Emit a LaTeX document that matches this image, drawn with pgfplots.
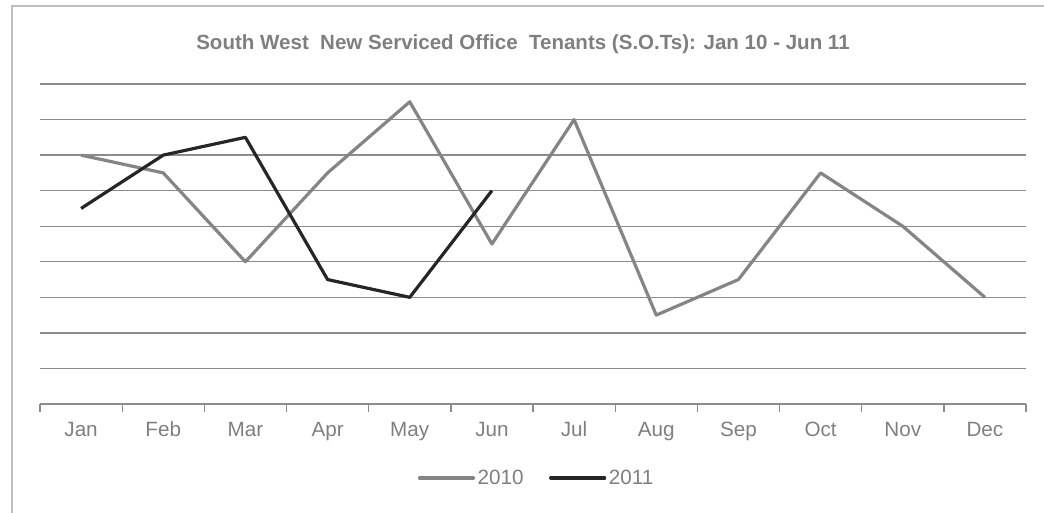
\documentclass[border=0pt]{standalone}
\usepackage{pgfplots}
\pgfplotsset{compat=1.18}
\usepackage{fontspec}
\setmainfont{Liberation Sans}
\definecolor{txtgray}{HTML}{7F7F7F}
\definecolor{gridgray}{HTML}{8C8C8C}
\definecolor{s2010}{HTML}{858585}
\definecolor{s2011}{HTML}{262626}
\definecolor{bordergray}{HTML}{BFBFBF}
\begin{document}
\begin{tikzpicture}
\path[use as bounding box] (0,0) rectangle (783pt,384pt);
\draw[bordergray, line width=1pt] (9pt,-2pt) -- (9pt,379.5pt) -- (790pt,379.5pt);
\node[anchor=base, font=\bfseries\fontsize{15.4pt}{18pt}\selectfont, text=txtgray, inner sep=0pt] at (392.25pt,347.25pt) {South West\ \ New Serviced Office\ \ Tenants (S.O.Ts): Jan 10 - Jun 11};
\begin{axis}[
  at={(30pt,81pt)}, anchor=south west,
  scale only axis, width=739.5pt, height=240pt,
  xmin=0.5, xmax=12.5, ymin=0, ymax=9,
  axis lines*=left,
  x axis line style={gridgray, line width=1pt, -},
  y axis line style={draw=none},
  xtick={1,...,12},
  xticklabels={Jan,Feb,Mar,Apr,May,Jun,Jul,Aug,Sep,Oct,Nov,Dec},
  major tick length=0pt,
  xticklabel style={font=\fontsize{15.5pt}{18pt}\selectfont, text=txtgray, anchor=base, yshift=-24.5pt},
  extra x ticks={0.5,1.5,...,12.5},
  extra x tick labels={},
  extra x tick style={major tick length=6pt, tick align=outside, tick style={gridgray, line width=1pt}, grid=none},
  ytick={1,...,9}, yticklabels={},
  ytick style={draw=none},
  ymajorgrids, grid style={gridgray, line width=1pt},
  legend columns=2,
  legend style={draw=none, at={(0.504,-0.231)}, anchor=center, font=\fontsize{15.5pt}{18pt}\selectfont, text=txtgray, inner sep=0pt,
    /tikz/every even column/.append style={column sep=17pt}},
  legend image code/.code={\draw[#1, line cap=round] (0pt,0pt) -- (40.5pt,0pt);},
  clip=false,
]
\addplot[s2010, line width=2.4pt, line join=round] coordinates {
(1,7) (2,6.5) (3,4) (4,6.5) (5,8.5) (6,4.5) (7,8) (8,2.5) (9,3.5) (10,6.5) (11,5) (12,3)};
\addlegendentry{2010}
\addplot[s2011, line width=2.4pt, line join=round] coordinates {
(1,5.5) (2,7) (3,7.5) (4,3.5) (5,3) (6,6)};
\addlegendentry{2011}
\end{axis}
\end{tikzpicture}
\end{document}
